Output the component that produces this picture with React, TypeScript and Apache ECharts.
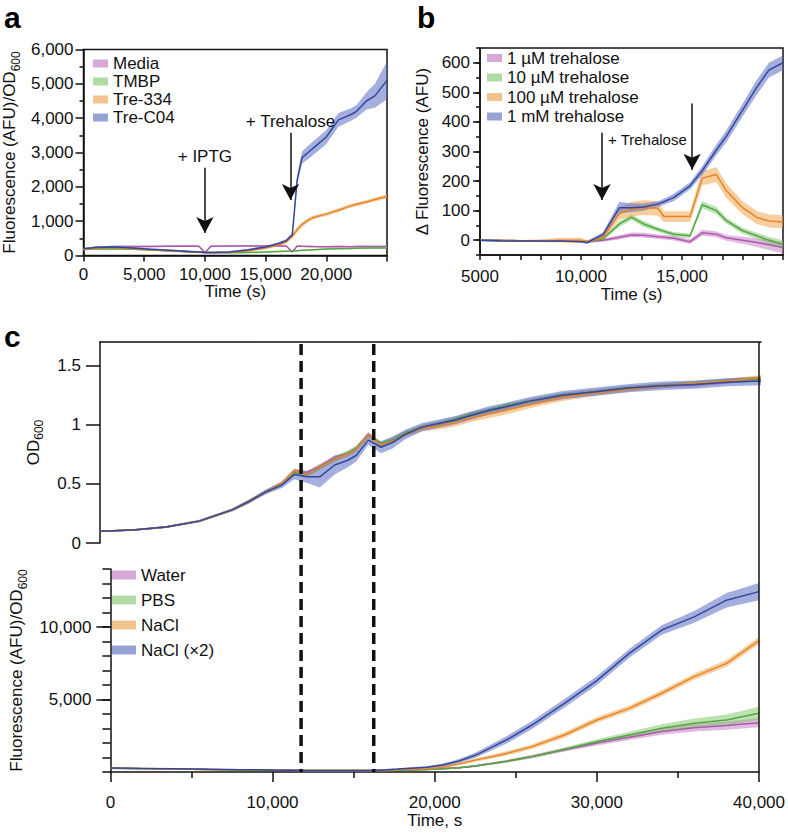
import React, { useEffect, useRef } from 'react';
import * as echarts from 'echarts';

const FONT = 'Liberation Sans';

// ---------- Panel a ----------
const aTime = [0, 1000, 2500, 4000, 5500, 7000, 8500, 9500, 10000, 10500, 12000, 13500, 15000, 16000, 16700, 17200, 17600, 18000, 18500, 19000, 20000, 21000, 22000, 22500, 23300, 24000, 25000];
const aMedia = [170, 240, 265, 260, 265, 270, 275, 270, 90, 270, 275, 280, 280, 280, 275, 100, 275, 270, 265, 260, 255, 260, 255, 260, 265, 260, 265];
const aMediaSd = [25, 25, 25, 25, 25, 25, 25, 25, 25, 25, 25, 25, 25, 25, 25, 25, 25, 25, 25, 25, 25, 25, 25, 25, 25, 25, 25];
const aTMBP = [180, 190, 200, 180, 160, 140, 120, 105, 95, 90, 80, 85, 100, 115, 125, 130, 140, 150, 160, 170, 190, 200, 205, 210, 215, 215, 220];
const aTMBPSd = [20, 20, 20, 20, 20, 20, 20, 20, 20, 20, 20, 20, 20, 20, 20, 20, 20, 20, 20, 20, 20, 20, 20, 20, 20, 20, 20];
const aTre334 = [170, 210, 230, 200, 170, 140, 110, 95, 85, 80, 90, 130, 220, 300, 400, 560, 750, 900, 1030, 1115, 1205, 1320, 1445, 1490, 1560, 1630, 1720];
const aTre334Sd = [25, 25, 25, 25, 25, 25, 25, 25, 25, 25, 25, 25, 30, 40, 50, 60, 80, 70, 60, 55, 55, 55, 55, 55, 55, 60, 60];
const aTreC04 = [200, 235, 250, 220, 180, 150, 120, 100, 90, 90, 100, 160, 250, 340, 430, 600, 2200, 2850, 3000, 3150, 3450, 3950, 4100, 4200, 4500, 4650, 5100];
const aTreC04Sd = [30, 30, 30, 30, 30, 30, 30, 30, 30, 30, 30, 30, 35, 40, 50, 60, 120, 180, 200, 200, 200, 200, 180, 180, 250, 350, 550];

// ---------- Panel b ----------
const bTime = [5000, 6000, 7000, 8000, 9000, 10000, 10300, 11100, 11900, 12500, 13100, 13800, 14100, 14600, 15400, 16000, 16700, 17200, 18000, 18700, 19300, 20000];
const b1uM = [0, -1, -2, -2, -2, -3, -5, 0, 10, 18, 17, 12, 10, 7, -5, 25, 20, 8, 0, -8, -15, -25];
const b1uMSd = [3, 3, 3, 3, 3, 3, 4, 5, 8, 8, 8, 8, 8, 8, 8, 10, 10, 10, 12, 15, 18, 20];
const b10uM = [0, -1, -2, -2, -2, -3, -5, 5, 55, 78, 55, 37, 30, 20, 15, 120, 100, 66, 32, 15, 0, -15];
const b10uMSd = [3, 3, 3, 3, 3, 3, 4, 5, 10, 10, 10, 8, 8, 8, 8, 12, 12, 10, 10, 10, 12, 15];
const b100uM = [0, -1, -2, -2, 0, 0, -5, 10, 90, 105, 110, 108, 80, 80, 80, 210, 222, 167, 110, 77, 65, 62];
const b100uMSd = [3, 3, 3, 5, 8, 8, 6, 8, 20, 25, 25, 25, 18, 18, 18, 25, 25, 25, 22, 22, 22, 22];
const b1mM = [0, -2, -3, -3, -3, -5, -8, 20, 110, 110, 112, 122, 130, 145, 184, 235, 305, 352, 440, 517, 575, 600];
const b1mMSd = [3, 3, 3, 3, 3, 3, 5, 8, 20, 15, 12, 10, 10, 12, 12, 15, 18, 20, 22, 25, 25, 25];

// ---------- Panel c ----------
const cTime = [0, 2000, 4000, 6000, 8000, 9000, 10000, 11000, 11760, 12500, 13300, 14200, 15000, 15500, 16240, 17000, 17700, 18500, 19500, 20500, 21500, 22500, 23500, 24500, 26000, 28000, 30000, 32000, 34000, 36000, 38000, 40000];
const odWater = [0.10, 0.11, 0.135, 0.185, 0.28, 0.35, 0.43, 0.50, 0.61, 0.59, 0.65, 0.72, 0.76, 0.80, 0.92, 0.83, 0.87, 0.93, 0.98, 1.01, 1.04, 1.09, 1.12, 1.15, 1.20, 1.25, 1.28, 1.31, 1.33, 1.34, 1.37, 1.39];
const odPBS = [0.10, 0.11, 0.135, 0.185, 0.28, 0.35, 0.43, 0.50, 0.60, 0.58, 0.64, 0.71, 0.76, 0.80, 0.91, 0.84, 0.87, 0.93, 0.98, 1.01, 1.05, 1.09, 1.12, 1.16, 1.20, 1.25, 1.28, 1.31, 1.33, 1.35, 1.37, 1.39];
const odNaCl = [0.10, 0.11, 0.135, 0.185, 0.28, 0.35, 0.43, 0.50, 0.61, 0.58, 0.64, 0.71, 0.75, 0.79, 0.91, 0.83, 0.86, 0.92, 0.97, 0.99, 1.02, 1.06, 1.09, 1.12, 1.17, 1.23, 1.27, 1.30, 1.33, 1.35, 1.37, 1.40];
const odNaCl2 = [0.10, 0.11, 0.135, 0.185, 0.28, 0.35, 0.43, 0.49, 0.58, 0.56, 0.56, 0.66, 0.70, 0.74, 0.87, 0.81, 0.85, 0.92, 0.98, 1.01, 1.04, 1.08, 1.12, 1.15, 1.20, 1.25, 1.28, 1.31, 1.33, 1.34, 1.36, 1.37];
const odSd = [0.006, 0.006, 0.008, 0.01, 0.012, 0.015, 0.015, 0.02, 0.02, 0.02, 0.02, 0.02, 0.02, 0.02, 0.02, 0.02, 0.02, 0.02, 0.02, 0.02, 0.02, 0.02, 0.02, 0.02, 0.02, 0.02, 0.02, 0.02, 0.02, 0.02, 0.02, 0.02];
const odNaClSd = [0.006, 0.006, 0.008, 0.01, 0.012, 0.015, 0.015, 0.02, 0.02, 0.02, 0.02, 0.02, 0.02, 0.02, 0.02, 0.02, 0.02, 0.02, 0.025, 0.03, 0.035, 0.035, 0.035, 0.035, 0.03, 0.03, 0.025, 0.02, 0.02, 0.02, 0.02, 0.02];
const odNaCl2Sd = [0.006, 0.006, 0.008, 0.01, 0.012, 0.015, 0.02, 0.025, 0.04, 0.05, 0.09, 0.08, 0.06, 0.05, 0.04, 0.05, 0.05, 0.04, 0.035, 0.035, 0.035, 0.035, 0.035, 0.035, 0.035, 0.035, 0.035, 0.035, 0.035, 0.035, 0.035, 0.035];

const flWater = [260, 230, 200, 170, 150, 140, 125, 115, 105, 100, 95, 95, 95, 95, 100, 110, 125, 145, 170, 220, 300, 420, 580, 750, 1060, 1540, 2000, 2400, 2800, 3050, 3200, 3400];
const flWaterSd = [30, 30, 30, 30, 30, 30, 30, 30, 30, 30, 30, 30, 30, 30, 30, 30, 35, 40, 45, 50, 60, 70, 80, 90, 110, 130, 170, 200, 230, 260, 290, 320];
const flPBS = [260, 230, 200, 170, 150, 140, 125, 115, 105, 100, 95, 95, 95, 95, 100, 110, 125, 145, 170, 220, 300, 420, 580, 750, 1060, 1560, 2090, 2550, 3010, 3360, 3590, 4050];
const flPBSSd = [30, 30, 30, 30, 30, 30, 30, 30, 30, 30, 30, 30, 30, 30, 30, 30, 35, 40, 45, 50, 60, 70, 80, 90, 110, 130, 170, 220, 280, 330, 380, 450];
const flNaCl = [270, 240, 210, 180, 155, 145, 130, 120, 110, 100, 100, 100, 100, 100, 105, 130, 160, 190, 230, 330, 560, 820, 1050, 1300, 1750, 2550, 3590, 4390, 5430, 6580, 7490, 9060];
const flNaClSd = [30, 30, 30, 30, 30, 30, 30, 30, 30, 30, 30, 30, 30, 30, 30, 30, 40, 50, 60, 80, 100, 120, 140, 150, 170, 190, 200, 200, 210, 220, 230, 250];
const flNaCl2 = [280, 250, 220, 190, 160, 150, 130, 120, 110, 100, 100, 100, 100, 100, 110, 150, 200, 260, 330, 480, 760, 1150, 1700, 2260, 3240, 4740, 6300, 8180, 9790, 10700, 11850, 12440];
const flNaCl2Sd = [30, 30, 30, 30, 30, 30, 30, 30, 30, 30, 30, 30, 30, 30, 30, 30, 40, 50, 70, 100, 130, 170, 220, 260, 280, 300, 300, 300, 330, 400, 500, 600];

const dashedTimes = [11760, 16240];

const aNames = ['Media', 'TMBP', 'Tre-334', 'Tre-C04'];
const bNames = ['1 \u00b5M trehalose', '10 \u00b5M trehalose', '100 \u00b5M trehalose', '1 mM trehalose'];
const cNames = ['Water', 'PBS', 'NaCl', 'NaCl (\u00d72)'];

const LINE = ['#ad5aad', '#52a83e', '#e5862a', '#34479c'];
const BAND = ['rgba(200,130,200,0.55)', 'rgba(125,195,105,0.5)', 'rgba(242,165,80,0.55)', 'rgba(90,110,195,0.55)'];
const LEG = ['#d7a9d7', '#b0dba3', '#f3c38e', '#97a3d6'];

const fmt = (v: number) => v.toLocaleString('en-US');
const INK = '#111';
const lbl = { color: INK, fontSize: 17, fontFamily: FONT };
const axLine = { show: true, onZero: false, lineStyle: { color: INK, width: 1.5 } };
const tickStyle = { color: INK, width: 1.5 };
const subRich = {
  n: { fontSize: 17, fontFamily: FONT, color: INK, lineHeight: 24, verticalAlign: 'middle' },
  s: { fontSize: 12, fontFamily: FONT, color: INK, lineHeight: 12, verticalAlign: 'bottom' },
};

function band(name: string, xi: number, yi: number, t: number[], m: number[], sd: number[], color: string) {
  const rows = t.map((x, i) => [x, m[i] - sd[i], m[i] + sd[i]]);
  return {
    type: 'custom',
    name: name + ' band',
    xAxisIndex: xi,
    yAxisIndex: yi,
    silent: true,
    clip: true,
    z: 1,
    data: rows,
    encode: { x: 0, y: [1, 2] },
    renderItem: (params: any, api: any) => {
      if (params.dataIndex !== 0) return null;
      const upper = rows.map((r) => api.coord([r[0], r[2]]));
      const lower = rows.map((r) => api.coord([r[0], r[1]])).reverse();
      return { type: 'polygon', shape: { points: upper.concat(lower) }, style: { fill: color } };
    },
  };
}

function line(name: string, xi: number, yi: number, t: number[], m: number[], color: string, extra: any = {}) {
  return {
    type: 'line',
    name,
    xAxisIndex: xi,
    yAxisIndex: yi,
    data: t.map((x, i) => [x, m[i]]),
    showSymbol: false,
    symbol: 'none',
    silent: true,
    clip: true,
    z: 3,
    lineStyle: { color, width: 1.5 },
    itemStyle: { color },
    ...extra,
  };
}

const arrowMark = (data: any[], showLabel: boolean) => ({
  silent: true,
  symbol: ['none', 'arrow'],
  symbolSize: [13, 16],
  lineStyle: { color: INK, width: 1.5, type: 'solid' },
  label: { show: showLabel, position: 'start', formatter: '{b}', color: INK, fontSize: 17, fontFamily: FONT, distance: 3 },
  emphasis: { disabled: true },
  data,
});

export default function App() {
  const ref = useRef<HTMLDivElement>(null);
  useEffect(() => {
    if (!ref.current) return;
    const chart = echarts.init(ref.current, undefined, { renderer: 'svg' });

    const aSeries = [aMedia, aTMBP, aTre334, aTreC04];
    const aSd = [aMediaSd, aTMBPSd, aTre334Sd, aTreC04Sd];
    const bSeries = [b1uM, b10uM, b100uM, b1mM];
    const bSd = [b1uMSd, b10uMSd, b100uMSd, b1mMSd];
    const odSeries = [odWater, odPBS, odNaCl, odNaCl2];
    const odSds = [odSd, odSd, odNaClSd, odNaCl2Sd];
    const flSeries = [flWater, flPBS, flNaCl, flNaCl2];
    const flSds = [flWaterSd, flPBSSd, flNaClSd, flNaCl2Sd];

    const series: any[] = [];
    for (let i = 0; i < 4; i++) series.push(band(aNames[i], 0, 0, aTime, aSeries[i], aSd[i], BAND[i]));
    for (let i = 0; i < 4; i++) {
      const extra = i === 3 ? {
        markLine: arrowMark([
          [{ name: '+ IPTG', coord: [10000, 2555] }, { coord: [10000, 657] }],
          [{ name: '+ Trehalose', coord: [17050, 3577] }, { coord: [17050, 1620] }],
        ], true),
      } : {};
      series.push(line(aNames[i], 0, 0, aTime, aSeries[i], LINE[i], extra));
    }
    for (let i = 0; i < 4; i++) series.push(band(bNames[i], 1, 1, bTime, bSeries[i], bSd[i], BAND[i]));
    for (let i = 0; i < 4; i++) {
      const extra = i === 3 ? {
        markLine: arrowMark([
          [{ name: 'a1', coord: [11040, 363] }, { coord: [11040, 136] }],
          [{ name: 'a2', coord: [15500, 462] }, { coord: [15500, 238] }],
        ], false),
        markPoint: {
          silent: true,
          symbol: 'circle',
          symbolSize: 0,
          label: { show: true, position: 'right', distance: 0, formatter: '{b}', color: INK, fontSize: 15, fontFamily: FONT },
          data: [{ name: '+ Trehalose', coord: [11337, 340] }],
        },
      } : {};
      series.push(line(bNames[i], 1, 1, bTime, bSeries[i], LINE[i], extra));
    }
    for (let i = 0; i < 4; i++) series.push(band(cNames[i], 2, 3, cTime, odSeries[i], odSds[i], BAND[i]));
    for (let i = 0; i < 4; i++) series.push(line(cNames[i], 2, 3, cTime, odSeries[i], LINE[i]));
    for (let i = 0; i < 4; i++) series.push(band(cNames[i], 3, 4, cTime, flSeries[i], flSds[i], BAND[i]));
    for (let i = 0; i < 4; i++) series.push(line(cNames[i], 3, 4, cTime, flSeries[i], LINE[i]));

    const legend = (names: string[], left: number, top: number, w: number, h: number, gap: number) => ({
      orient: 'vertical',
      left,
      top,
      padding: 0,
      itemWidth: w,
      itemHeight: h,
      itemGap: gap,
      icon: 'rect',
      selectedMode: false,
      textStyle: { color: INK, fontSize: 17, fontFamily: FONT },
      data: names.map((n, i) => ({ name: n, icon: 'rect', itemStyle: { color: LEG[i], borderWidth: 0 } })),
    });

    chart.setOption({
      animation: false,
      backgroundColor: '#fff',
      textStyle: { fontFamily: FONT },
      grid: [
        { left: 82, top: 49.5, width: 305, height: 206, show: true, borderColor: INK, borderWidth: 1.5 },
        { left: 480, top: 48, width: 303, height: 207, show: true, borderColor: INK, borderWidth: 1.5 },
        { left: 100, top: 342, width: 661, height: 201 },
        { left: 100, top: 569, width: 661, height: 203 },
      ],
      legend: [
        legend(aNames, 93, 55, 15, 8, 1),
        legend(bNames, 487, 49.5, 15, 8, 2.5),
        legend(cNames, 112, 566.5, 24, 9, 8),
      ],
      xAxis: [
        {
          type: 'value', gridIndex: 0, min: 0, max: 25000, interval: 5000,
          axisLine: axLine, axisTick: { length: 6, lineStyle: tickStyle },
          axisLabel: { ...lbl, margin: 10, formatter: (v: number) => (v >= 25000 ? '' : fmt(v)) },
          splitLine: { show: false },
          name: 'Time (s)', nameLocation: 'middle', nameGap: 27, nameTextStyle: lbl,
        },
        {
          type: 'value', gridIndex: 1, min: 5000, max: 20000, interval: 5000,
          axisLine: axLine, axisTick: { length: 5, lineStyle: tickStyle },
          minorTick: { show: true, splitNumber: 5, length: 5, lineStyle: tickStyle },
          axisLabel: { ...lbl, margin: 13, formatter: (v: number) => (v === 5000 ? '5000' : v >= 20000 ? '' : fmt(v)) },
          splitLine: { show: false }, minorSplitLine: { show: false },
          name: 'Time (s)', nameLocation: 'middle', nameGap: 29, nameTextStyle: lbl,
        },
        {
          type: 'value', gridIndex: 2, position: 'top', min: 0, max: 40000,
          axisLine: axLine, axisTick: { show: false }, axisLabel: { show: false }, splitLine: { show: false },
        },
        {
          type: 'value', gridIndex: 3, min: 0, max: 40000, interval: 10000,
          axisLine: axLine, axisTick: { length: 10, lineStyle: tickStyle },
          minorTick: { show: true, splitNumber: 2, length: 6, lineStyle: tickStyle },
          axisLabel: { ...lbl, margin: 22, formatter: fmt },
          splitLine: { show: false }, minorSplitLine: { show: false },
          name: 'Time, s', nameLocation: 'middle', nameGap: 36, nameTextStyle: lbl,
        },
      ],
      yAxis: [
        {
          type: 'value', gridIndex: 0, min: 0, max: 6000, interval: 1000,
          axisLine: axLine, axisTick: { length: 8, lineStyle: tickStyle },
          minorTick: { show: true, splitNumber: 2, length: 4, lineStyle: tickStyle },
          axisLabel: { ...lbl, margin: 10, formatter: fmt },
          splitLine: { show: false }, minorSplitLine: { show: false },
          name: '{n|Fluorescence (AFU)/OD}{s|600}', nameLocation: 'middle', nameRotate: 90, nameGap: 62,
          nameTextStyle: { rich: subRich },
        },
        {
          type: 'value', gridIndex: 1, position: 'left', min: -50, max: 650,
          axisLine: axLine,
          axisTick: { length: 7, lineStyle: tickStyle, customValues: [0, 100, 200, 300, 400, 500, 600] },
          axisLabel: { ...lbl, margin: 10, customValues: [0, 100, 200, 300, 400, 500, 600] },
          splitLine: { show: false },
          name: '\u0394 Fluorescence (AFU)', nameLocation: 'middle', nameRotate: 90, nameGap: 49, nameTextStyle: lbl,
        },
        {
          type: 'value', gridIndex: 1, position: 'left', min: -50, max: 650, interval: 50,
          axisLine: { show: false }, axisTick: { length: 4, lineStyle: tickStyle }, axisLabel: { show: false },
          splitLine: { show: false },
        },
        {
          type: 'value', gridIndex: 2, position: 'left', min: 0, max: 1.7,
          axisLine: axLine,
          axisTick: { length: 14, lineStyle: tickStyle, customValues: [0, 0.5, 1, 1.5] },
          axisLabel: { ...lbl, margin: 19, customValues: [0, 0.5, 1, 1.5] },
          splitLine: { show: false },
          name: '{n|OD}{s|600}', nameLocation: 'middle', nameRotate: 90, nameGap: 55,
          nameTextStyle: { rich: subRich },
        },
        {
          type: 'value', gridIndex: 3, position: 'left', min: 0, max: 14000,
          axisLine: axLine,
          axisTick: { length: 14, lineStyle: tickStyle, customValues: [5000, 10000] },
          axisLabel: { ...lbl, margin: 19, customValues: [5000, 10000], formatter: fmt },
          splitLine: { show: false },
          name: '{n|Fluorescence (AFU)/OD}{s|600}', nameLocation: 'middle', nameRotate: 90, nameGap: 80,
          nameTextStyle: { rich: subRich },
        },
        {
          type: 'value', gridIndex: 3, position: 'left', min: 0, max: 14000, interval: 1000,
          axisLine: { show: false }, axisTick: { length: 8, lineStyle: tickStyle }, axisLabel: { show: false },
          splitLine: { show: false },
        },
      ],
      series,
    });

    const graphics: any[] = [];
    const letter = (t: string, x: number, y: number) => ({
      type: 'text', z: 20,
      style: { text: t, x, y, fill: '#000', font: 'bold 30px "Liberation Sans"', align: 'left', verticalAlign: 'middle' },
    });
    graphics.push(letter('a', 4, 17), letter('b', 417, 17), letter('c', 4, 336));

    const bottomFinder = { xAxisIndex: 3, yAxisIndex: 4 };
    const topFinder = { xAxisIndex: 2, yAxisIndex: 3 };
    dashedTimes.forEach((t) => {
      const pb = chart.convertToPixel(bottomFinder as any, [t, 0]) as number[];
      const pt = chart.convertToPixel(topFinder as any, [t, 1.7]) as number[];
      graphics.push({
        type: 'line', z: 20, silent: true,
        shape: { x1: pb[0], y1: pt[1] + 2, x2: pb[0], y2: pb[1] },
        style: { stroke: INK, lineWidth: 3.5, lineDash: [11, 6] },
      });
    });
    const rb = chart.convertToPixel(bottomFinder as any, [40000, 0]) as number[];
    const rt = chart.convertToPixel(topFinder as any, [40000, 1.7]) as number[];
    graphics.push({
      type: 'line', z: 20, silent: true,
      shape: { x1: rb[0], y1: rt[1], x2: rb[0], y2: rb[1] },
      style: { stroke: INK, lineWidth: 1.5 },
    });
    chart.setOption({ graphic: graphics });

    return () => chart.dispose();
  }, []);

  return (
    <div
      ref={ref}
      style={{ position: 'fixed', left: 0, top: 0, width: 788, height: 835, background: '#fff' }}
    />
  );
}
